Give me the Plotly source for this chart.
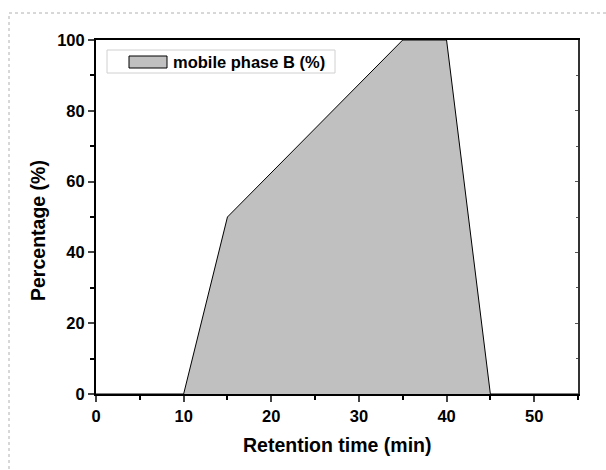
import plotly.graph_objects as go

# Data
time_min = [0, 10, 15, 35, 40, 45, 55]
mobile_phase_b = [0, 0, 50, 100, 100, 0, 0]
x_ticks = [0, 10, 20, 30, 40, 50]
y_ticks = [0, 20, 40, 60, 80, 100]
series_name = "mobile phase B (%)"
x_title = "Retention time (min)"
y_title = "Percentage (%)"

W, H = 606, 470
L, R, T, B = 96, 28, 40, 76
pw, ph = W - L - R, H - T - B

def px(x):
    return (x - L) / pw

def py(y):
    return 1 - (y - T) / ph

FONT = "Liberation Sans"

fig = go.Figure()
fig.add_trace(go.Scatter(
    x=time_min, y=mobile_phase_b, mode="lines",
    fill="tozeroy", fillcolor="#C0C0C0",
    line=dict(color="black", width=1),
    name=series_name, showlegend=False, hoverinfo="skip",
))
# invisible trace for mirrored axes with inward ticks
fig.add_trace(go.Scatter(x=[0], y=[0], xaxis="x2", yaxis="y2", mode="markers",
                         marker=dict(opacity=0), showlegend=False, hoverinfo="skip"))

tickfont = dict(family=FONT, size=16.5, color="black")
fig.update_layout(
    width=W, height=H,
    margin=dict(l=L, r=R, t=T, b=B),
    paper_bgcolor="white", plot_bgcolor="white",
    font=dict(family=FONT, color="black"),
    xaxis=dict(
        range=[0, 55], tickvals=x_ticks, ticktext=[f"<b>{v}</b>" for v in x_ticks],
        ticks="outside", ticklen=6, tickwidth=2,
        showline=True, linecolor="black", linewidth=2, showgrid=False, zeroline=False,
        tickfont=tickfont,
        minor=dict(dtick=5, tick0=0, ticks="outside", ticklen=4, tickwidth=2, tickcolor="black"),
    ),
    yaxis=dict(
        range=[0, 100], tickvals=y_ticks, ticktext=[f"<b>{v}</b>" for v in y_ticks],
        ticks="outside", ticklen=6, tickwidth=2,
        showline=True, linecolor="black", linewidth=2, showgrid=False, zeroline=False,
        tickfont=tickfont,
        minor=dict(dtick=10, tick0=0, ticks="outside", ticklen=4, tickwidth=2, tickcolor="black"),
    ),
    xaxis2=dict(
        overlaying="x", side="top", matches="x", range=[0, 55], tickvals=x_ticks,
        ticks="", showticklabels=False,
        showline=True, linecolor="black", linewidth=1.5, showgrid=False, zeroline=False,
    ),
    yaxis2=dict(
        overlaying="y", side="right", matches="y", range=[0, 100], tickvals=y_ticks,
        ticks="inside", ticklen=3, tickwidth=1, tickcolor="#555555", showticklabels=False,
        showline=True, linecolor="#333333", linewidth=1.5, showgrid=False, zeroline=False,
        minor=dict(dtick=10, tick0=0, ticks="inside", ticklen=2, tickwidth=1, tickcolor="#555555"),
    ),
)

shapes = [
    # dotted frame around the figure
    dict(type="rect", xref="paper", yref="paper",
         x0=px(9), y0=py(480), x1=px(620), y1=py(13),
         line=dict(color="#B0B0B0", width=1, dash="dot"), fillcolor="rgba(0,0,0,0)", layer="below"),
    # legend box
    dict(type="rect", xref="paper", yref="paper",
         x0=px(107), y0=py(73), x1=px(335), y1=py(50),
         line=dict(color="#D0D0D0", width=1), fillcolor="white"),
    # legend symbol
    dict(type="rect", xref="paper", yref="paper",
         x0=px(129), y0=py(68), x1=px(167), y1=py(56),
         line=dict(color="black", width=1), fillcolor="#C0C0C0"),
]
fig.update_layout(shapes=shapes)
fig.add_annotation(xref="paper", yref="paper", x=px(171), y=py(62),
                   xanchor="left", yanchor="middle", showarrow=False,
                   text=f"<b>{series_name}</b>", font=dict(family=FONT, size=16.5, color="black"))
# axis titles
fig.add_annotation(xref="paper", yref="paper", x=px(337), y=py(445),
                   xanchor="center", yanchor="middle", showarrow=False,
                   text=f"<b>{x_title}</b>", font=dict(family=FONT, size=19.5, color="black"))
fig.add_annotation(xref="paper", yref="paper", x=px(38), y=py(231),
                   xanchor="center", yanchor="middle", showarrow=False, textangle=-90,
                   text=f"<b>{y_title}</b>", font=dict(family=FONT, size=19.5, color="black"))

fig.write_html("out.html")
